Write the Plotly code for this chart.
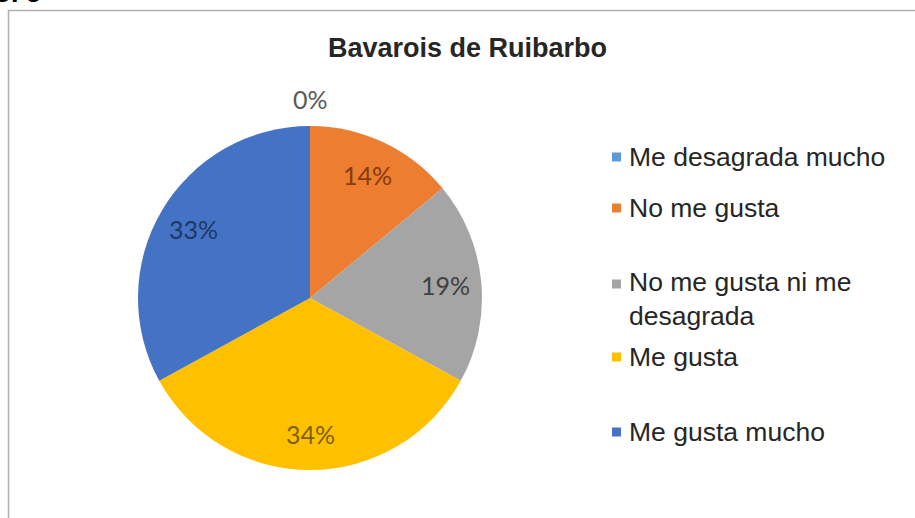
import numpy as np
import plotly.graph_objects as go

# ---- data ----
categories = ["Me desagrada mucho", "No me gusta", "No me gusta ni me desagrada",
              "Me gusta", "Me gusta mucho"]
legend_labels = ["Me desagrada mucho", "No me gusta", "No me gusta ni me<br>desagrada",
                 "Me gusta", "Me gusta mucho"]
values = [0, 14, 19, 34, 33]
title_text = "Bavarois de Ruibarbo"
caption_text = "Gráfico No. 5"

# ---- styles ----
slice_colors = ["#5B9BD5", "#ED7D31", "#A5A5A5", "#FFC000", "#4472C4"]
label_colors = ["#595959", "#843C0C", "#404040", "#7F6000", "#203864"]

W, H = 915, 518
CX, CY, R = 310, 298, 172          # pie centre / radius in pixels
legend_sq_y = [157, 208, 284, 357, 432]
legend_tx_y = [157, 208, 298.5, 357, 432]
LEG_SQ_X, LEG_TX_X, SQ = 616.5, 627, 9

fig = go.Figure()
fig.add_trace(go.Pie(
    labels=categories, values=values,
    sort=False, direction="clockwise", rotation=0,
    marker=dict(colors=slice_colors, line=dict(width=0)),
    textinfo="none", showlegend=False,
    domain=dict(x=[(CX - R) / W, (CX + R) / W],
                y=[(H - CY - R) / H, (H - CY + R) / H]),
))

annotations = []
shapes = []

# percentage labels (computed from the data)
vals = np.array(values, dtype=float)
total = vals.sum()
cum = np.cumsum(vals) - vals / 2
for v, c, col in zip(vals, cum, label_colors):
    theta = np.deg2rad(360 * c / total)
    rr = 0.79 * R if v > 0 else 1.157 * R
    px = CX + rr * np.sin(theta)
    py = CY - rr * np.cos(theta)
    annotations.append(dict(
        x=px / W, y=1 - py / H, xref="paper", yref="paper",
        text=f"{v / total * 100:.0f}%", showarrow=False,
        xanchor="center", yanchor="middle",
        font=dict(family="Lato", size=25, color=col)))

# legend
for lab, col, sy, ty in zip(legend_labels, slice_colors, legend_sq_y, legend_tx_y):
    shapes.append(dict(type="rect", xref="paper", yref="paper",
                       x0=(LEG_SQ_X - SQ / 2) / W, x1=(LEG_SQ_X + SQ / 2) / W,
                       y0=1 - (sy + SQ / 2) / H, y1=1 - (sy - SQ / 2) / H,
                       fillcolor=col, line=dict(width=0)))
    annotations.append(dict(
        x=LEG_TX_X / W, y=1 - ty / H, xref="paper", yref="paper",
        text=lab, showarrow=False, xanchor="left", yanchor="middle", align="left",
        font=dict(family="Liberation Sans", size=26.5, color="#262626")))

# title
annotations.append(dict(
    x=468 / W, y=1 - 48 / H, xref="paper", yref="paper",
    text=f"<b>{title_text}</b>", showarrow=False, xanchor="center", yanchor="middle",
    font=dict(family="Liberation Sans", size=27, color="#262626")))

# caption, cut off at the very top as in the source image
annotations.append(dict(
    x=43 / W, y=1 - 10 / H, xref="paper", yref="paper",
    text=f"<b>{caption_text}</b>", showarrow=False, xanchor="right", yanchor="bottom",
    font=dict(family="Liberation Sans", size=27, color="#000000")))

# chart frame
shapes.append(dict(type="rect", xref="paper", yref="paper",
                   x0=8.5 / W, x1=1.2, y0=-0.2, y1=1 - 10.5 / H,
                   line=dict(color="#AFAFAF", width=1.5), fillcolor="rgba(0,0,0,0)"))

fig.update_layout(
    width=W, height=H,
    margin=dict(l=0, r=0, t=0, b=0),
    paper_bgcolor="white", plot_bgcolor="white",
    annotations=annotations, shapes=shapes,
    showlegend=False,
)

fig.write_html("out.html", config={"displayModeBar": False},
               post_script="document.body.style.margin='0px';")
